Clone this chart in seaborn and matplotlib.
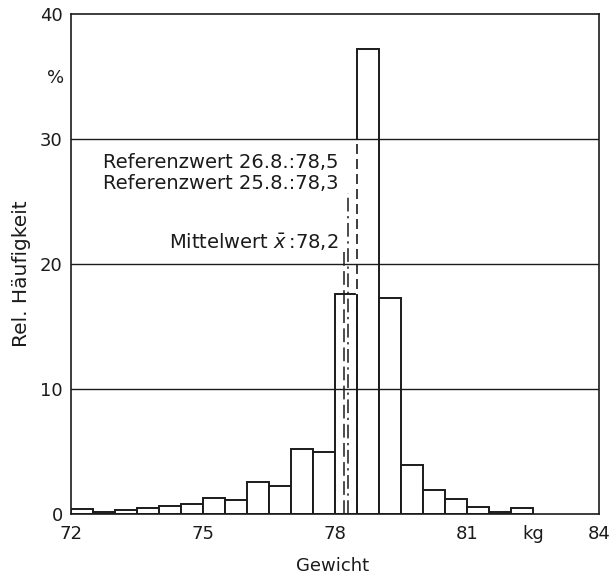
import numpy as np
import pandas as pd
import matplotlib
matplotlib.use("Agg")
import matplotlib.pyplot as plt
import matplotlib.transforms as mtransforms
import seaborn as sns

# Weight classes (lower bound in kg, width 0.5 kg) and relative frequency in %
class_start = [72.0, 72.5, 73.0, 73.5, 74.0, 74.5, 75.0, 75.5, 76.0, 76.5, 77.0,
               77.5, 78.0, 78.5, 79.0, 79.5, 80.0, 80.5, 81.0, 81.5, 82.0]
rel_freq = [0.4, 0.15, 0.35, 0.45, 0.65, 0.8, 1.3, 1.15, 2.6, 2.25, 5.2,
            4.95, 17.6, 37.2, 17.3, 3.9, 1.9, 1.2, 0.55, 0.2, 0.45]
class_width = 0.5

# Mean and reference values (kg) with the height (%) their markers reach
mean_value = 78.2
mean_top = 21.1
ref_values = [78.5, 78.3]
ref_dates = ["26.8.", "25.8."]
ref_tops = [30.0, 25.7]

x_ticks = [72, 75, 78, 81, 82.5, 84]
x_tick_labels = ["72", "75", "78", "81", "kg", "84"]
y_ticks = [0, 10, 20, 30, 40]
grid_levels = [10, 20, 30]

ink = "#1b1b1b"


def de_num(v):
    """Format a value with a decimal comma."""
    return f"{v:.1f}".replace(".", ",")


sns.set_style("white")
plt.rcParams["font.family"] = ["DejaVu Sans"]

fig = plt.figure(figsize=(6.13, 5.81), dpi=100)
ax = fig.add_axes([0.1158, 0.1153, 0.8613, 0.8606])

df = pd.DataFrame({
    "Gewicht": np.array(class_start) + class_width / 2,
    "Anteil": rel_freq,
})
edges = [float(s) for s in class_start] + [class_start[-1] + class_width]

sns.histplot(data=df, x="Gewicht", weights="Anteil", bins=edges, stat="count",
             fill=True, color="white", edgecolor=ink, linewidth=1.4, alpha=1.0,
             ax=ax, zorder=2)

# horizontal grid lines crossing the bars
for lvl in grid_levels:
    ax.axhline(lvl, color=ink, lw=1.0, zorder=3)

# the 26.8. reference line replaces the solid bar edge where it runs alone
shared_edge = class_start.index(ref_values[0])
ax.plot([ref_values[0], ref_values[0]], [rel_freq[shared_edge - 1], ref_tops[0]],
        color="white", lw=2.4, zorder=2.5, solid_capstyle="butt")

# mean and reference value markers
ax.plot([mean_value, mean_value], [0, mean_top], color=ink, lw=1.1,
        ls=(0, (9, 3.5)), zorder=4)
ax.plot([ref_values[1], ref_values[1]], [0, ref_tops[1]], color=ink, lw=1.1,
        ls=(0, (9, 3, 1.5, 3)), zorder=4)
ax.plot([ref_values[0], ref_values[0]], [0, ref_tops[0]], color=ink, lw=1.2,
        ls=(0, (6, 3)), zorder=4)

text_x = 78.08
ax.text(text_x, 27.7, f"Referenzwert {ref_dates[0]}:{de_num(ref_values[0])}",
        ha="right", va="baseline", fontsize=14, color=ink)
ax.text(text_x, 26.0, f"Referenzwert {ref_dates[1]}:{de_num(ref_values[1])}",
        ha="right", va="baseline", fontsize=14, color=ink)
ax.text(text_x, 21.3, r"Mittelwert $\bar{x}\,$:" + de_num(mean_value),
        ha="right", va="baseline", fontsize=14, color=ink)

ax.set_xlim(72, 84)
ax.set_ylim(0, 40)
ax.set_xticks(x_ticks)
ax.set_xticklabels(x_tick_labels)
ax.set_yticks(y_ticks)
ax.tick_params(axis="both", length=0, labelsize=13, colors=ink)
ax.tick_params(axis="x", pad=8)
ax.tick_params(axis="y", pad=6)

for side in ["left", "right", "top", "bottom"]:
    ax.spines[side].set_visible(True)
    ax.spines[side].set_color(ink)
    ax.spines[side].set_linewidth(1.2)

# unit sign above the 30 % label
trans = mtransforms.blended_transform_factory(ax.transAxes, ax.transData)
ax.text(-0.03, 34.9, "%", transform=trans, ha="center", va="center",
        fontsize=13, color=ink)

ax.set_xlabel("Gewicht", fontsize=13, color=ink)
ax.xaxis.set_label_coords(0.496, -0.086)
ax.set_ylabel("Rel. Häufigkeit", fontsize=14.5, color=ink,
              family=["DejaVu Sans"])
ax.yaxis.set_label_coords(-0.075, 0.48)

fig.savefig("out.png", dpi=100, facecolor="white")
